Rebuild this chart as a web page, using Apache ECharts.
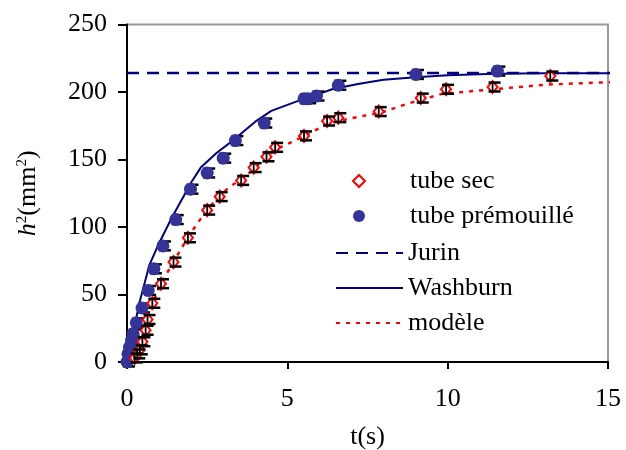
<!DOCTYPE html>
<html>
<head>
<meta charset="utf-8">
<script src="https://cdn.jsdelivr.net/npm/echarts@6/dist/echarts.min.js"></script>
<style>
  html, body { margin: 0; padding: 0; background: #fff; }
  #chart { width: 626px; height: 450px; }
</style>
</head>
<body>
<div id="chart"></div>
<script>
// h^2 en fonction du temps : tube sec / tube prémouillé

const chart = echarts.init(document.getElementById('chart'))

// mesures (t en s, h2 en mm2)
const secT = [0.24, 0.32, 0.4, 0.48, 0.58, 0.64, 0.79, 1.06, 1.45, 1.9, 2.5, 2.89, 3.56, 3.95, 4.35, 4.62, 5.52, 6.24, 6.59, 7.85, 9.16, 9.95, 11.4, 13.2]
const secH2 = [3, 6, 9, 15, 23.5, 31.5, 43.5, 58, 74, 92, 112.5, 122.5, 134.5, 144, 152, 159, 167.5, 178.5, 181, 185.5, 195.5, 202, 203.7, 211.8]
const preT = [0, 0.03, 0.08, 0.14, 0.19, 0.29, 0.47, 0.66, 0.84, 1.12, 1.52, 1.98, 2.5, 3.0, 3.38, 4.28, 5.52, 5.65, 5.91, 6.59, 9.01, 11.55]
const preH2 = [0, 6, 11, 16, 21, 29, 40, 53, 69, 86, 105.5, 128, 140, 151, 164, 177, 195, 195, 197, 205, 213, 215.5]
const errH2 = 3.3

// modèles
const jurinH2 = 214
const jurinT = [0, 15.3]
const washT = [0, 0.1, 0.2, 0.4, 0.7, 1.0, 1.4, 1.75, 2.0, 2.3, 2.8, 3.3, 4.0, 4.5, 5.4, 6.4, 7.2, 8.0, 9.0, 10.0, 11.5, 13, 15.3]
const washH2 = [0, 12, 23, 45, 72, 88, 107, 122, 133, 144, 155, 164, 178, 186, 194, 202, 206, 209, 211, 212.4, 213.6, 213.8, 213.8]
const modT = [0, 0.2, 0.4, 0.6, 0.8, 1.05, 1.45, 1.9, 2.5, 2.9, 3.2, 3.57, 3.95, 4.35, 4.6, 5.5, 6.3, 7.3, 7.9, 8.7, 9.8, 11.4, 13.1, 15.3]
const modH2 = [0, 3, 10, 24, 43, 58, 74, 92.5, 113, 123, 130, 135, 143, 152, 157, 167, 177, 182, 184.5, 191, 198.5, 202, 205.5, 207.5]

const xTicks = [0, 5, 10, 15]
const yTicks = [0, 50, 100, 150, 200, 250]

const font = 'Liberation Serif, Times New Roman, serif'
const zip = (a, b) => a.map((v, i) => [v, b[i]])

// barres d'erreur : trait vertical + deux petits traits horizontaux
function errorBars(params, api) {
  const t = api.value(0)
  const v = api.value(1)
  const hi = api.coord([t, v + errH2])
  const lo = api.coord([t, v - errH2])
  const st = { stroke: '#000', lineWidth: 2.5 }
  return {
    type: 'group',
    children: [
      { type: 'line', shape: { x1: hi[0], y1: hi[1], x2: lo[0], y2: lo[1] }, style: { stroke: '#000', lineWidth: 1.8 } },
      { type: 'line', shape: { x1: hi[0] - 4, y1: hi[1], x2: hi[0] + 8, y2: hi[1] }, style: st },
      { type: 'line', shape: { x1: lo[0] - 4, y1: lo[1], x2: lo[0] + 8, y2: lo[1] }, style: st }
    ]
  }
}

const option = {
  animation: false,
  textStyle: { fontFamily: font },
  grid: {
    left: 127, right: 18, top: 24.5, bottom: 88,
    outerBoundsMode: 'none', containLabel: false,
    show: true, borderColor: '#999', borderWidth: 2
  },
  xAxis: {
    type: 'value', min: 0, max: 15, interval: 5,
    name: 't(s)', nameLocation: 'middle', nameGap: 62,
    nameTextStyle: { fontFamily: font, fontSize: 26, color: '#000' },
    axisLine: { lineStyle: { color: '#000', width: 2 } },
    axisTick: { length: 7, lineStyle: { width: 2 } },
    axisLabel: { fontFamily: font, fontSize: 26, color: '#000', margin: 24,
      formatter: v => xTicks.includes(v) ? String(v) : '' },
    splitLine: { show: false }
  },
  yAxis: {
    type: 'value', min: 0, max: 250, interval: 50,
    name: '{i|h}{s|2}{n|(mm}{s|2}{n|)}', nameLocation: 'middle', nameGap: 85, nameRotate: 90,
    nameTextStyle: {
      color: '#000',
      rich: {
        i: { fontFamily: font, fontSize: 26, fontStyle: 'italic', color: '#000' },
        n: { fontFamily: font, fontSize: 26, color: '#000' },
        s: { fontFamily: font, fontSize: 15, color: '#000', padding: [0, 0, 12, 0] }
      }
    },
    axisLine: { show: true, lineStyle: { color: '#000', width: 2 } },
    axisTick: { show: true, length: 9, lineStyle: { width: 2 } },
    axisLabel: { fontFamily: font, fontSize: 26, color: '#000', margin: 20,
      formatter: v => yTicks.includes(v) ? String(v) : '' },
    splitLine: { show: false }
  },
  legend: [
    {
      data: ['tube sec', 'tube prémouillé'],
      orient: 'vertical', left: 352, top: 166, padding: 0,
      itemWidth: 12, itemHeight: 12, itemGap: 5,
      selectedMode: false,
      formatter: '{t|{name}}',
      textStyle: { rich: { t: { fontFamily: font, fontSize: 26, color: '#000', height: 30, lineHeight: 30, padding: [0, 0, 0, 40] } } }
    },
    {
      data: ['Jurin', 'Washburn', 'modèle'],
      orient: 'vertical', left: 335, top: 238, padding: 0,
      itemWidth: 67, itemHeight: 14, itemGap: 5,
      selectedMode: false,
      itemStyle: { opacity: 0 },
      textStyle: { fontFamily: font, fontSize: 26, color: '#000', lineHeight: 30 }
    }
  ],
  series: [
    {
      name: 'Jurin', type: 'line', symbol: 'none', clip: false, z: 2,
      data: jurinT.map(t => [t, jurinH2]),
      itemStyle: { color: '#000080' },
      lineStyle: { color: '#000080', width: 2.5, type: [12, 8] }
    },
    {
      name: 'Washburn', type: 'line', symbol: 'none', clip: false, z: 2,
      data: zip(washT, washH2),
      itemStyle: { color: '#000080' },
      lineStyle: { color: '#000080', width: 2 }
    },
    {
      name: 'modèle', type: 'line', symbol: 'none', clip: false, z: 2,
      data: zip(modT, modH2),
      itemStyle: { color: '#ff0000' },
      lineStyle: { color: '#ff0000', width: 2.5, type: [4, 6] }
    },
    {
      type: 'custom', renderItem: errorBars, z: 3,
      data: zip(preT, preH2)
    },
    {
      name: 'tube prémouillé', type: 'scatter', symbol: 'circle', symbolSize: 13, z: 4,
      data: zip(preT, preH2),
      itemStyle: { color: '#333399', opacity: 1 }
    },
    {
      name: 'tube sec', type: 'scatter', symbol: 'diamond', symbolSize: [10, 12], z: 5,
      data: zip(secT, secH2),
      itemStyle: { color: '#fff', borderColor: '#ff0000', borderWidth: 2, opacity: 1 }
    },
    {
      type: 'custom', renderItem: errorBars, z: 6,
      data: zip(secT, secH2)
    }
  ]
}

chart.setOption(option)
</script>
</body>
</html>
